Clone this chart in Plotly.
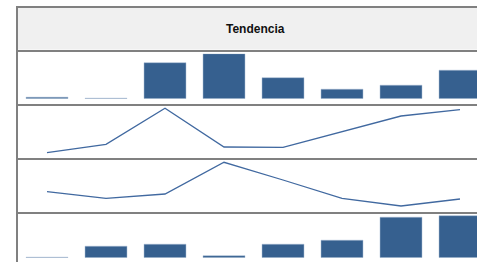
import plotly.graph_objects as go
from plotly.subplots import make_subplots

# ---- data ----
categories = ["P1", "P2", "P3", "P4", "P5", "P6", "P7", "P8"]
row1_bars = [3, 1, 72, 90, 42, 19, 27, 57]
row2_line = [5.3, 13.7, 49.7, 11, 10.7, 26.5, 42, 48.3]
row3_line = [20.3, 13.7, 18, 49.7, 32, 13.7, 6, 13]
row4_bars = [1, 23, 27, 4, 27, 35, 81, 84]
header_title = "Tendencia"

W, H = 477, 262
BAR = "#36608f"
LINE = "#4169a0"
BORDER = "#808080"


def py(p):
    return 1 - p / H


def px(p):
    return p / W


fig = make_subplots(rows=4, cols=1, shared_xaxes=True)
fig.add_trace(go.Bar(x=categories, y=row1_bars, marker_color=BAR,
                     marker_line=dict(color="#a9bcd4", width=0.5)), row=1, col=1)
fig.add_trace(go.Scatter(x=categories, y=row2_line, mode="lines", line=dict(color=LINE, width=1.3)), row=2, col=1)
fig.add_trace(go.Scatter(x=categories, y=row3_line, mode="lines", line=dict(color=LINE, width=1.3)), row=3, col=1)
fig.add_trace(go.Bar(x=categories, y=row4_bars, marker_color=BAR,
                     marker_line=dict(color="#a9bcd4", width=0.5)), row=4, col=1)

band = 59.0
x0 = 17.5
xr = [-0.5, -0.5 + (W - x0) / band]
rows = [
    ((98.7, 53.7), [0, 90]),
    ((158, 106), [0, 52]),
    ((212, 160), [0, 52]),
    ((257.7, 212.7), [0, 90]),
]
for i, ((pb, pt), rng) in enumerate(rows, start=1):
    fig.update_yaxes(domain=[py(pb), py(pt)], range=rng, visible=False, row=i, col=1)
    fig.update_xaxes(domain=[px(x0), 1], range=xr, visible=False, row=i, col=1)

shapes = []
shapes.append(dict(type="rect", xref="paper", yref="paper", x0=px(18), x1=1, y0=py(49.5), y1=py(8),
                   fillcolor="#f0f0f0", line_width=0, layer="below"))
shapes.append(dict(type="line", xref="paper", yref="paper", x0=px(17), x1=px(17), y0=0, y1=py(6),
                   line=dict(color=BORDER, width=2)))
for yy in [7, 51, 105, 159, 213]:
    shapes.append(dict(type="line", xref="paper", yref="paper", x0=px(16), x1=1, y0=py(yy), y1=py(yy),
                       line=dict(color=BORDER, width=2)))

fig.update_layout(
    width=W, height=H,
    margin=dict(l=0, r=0, t=0, b=0),
    paper_bgcolor="white", plot_bgcolor="rgba(0,0,0,0)",
    showlegend=False, bargap=0.288,
    shapes=shapes,
    annotations=[dict(text="<b>" + header_title + "</b>", xref="paper", yref="paper",
                      x=px(255), y=py(29), xanchor="center", yanchor="middle", showarrow=False,
                      font=dict(family="Liberation Sans, Arial", size=12, color="#111111"))],
)

fig.write_html(
    "out.html",
    config={"displayModeBar": False},
    post_script="document.body.style.margin='0';document.body.style.overflow='hidden';",
)
